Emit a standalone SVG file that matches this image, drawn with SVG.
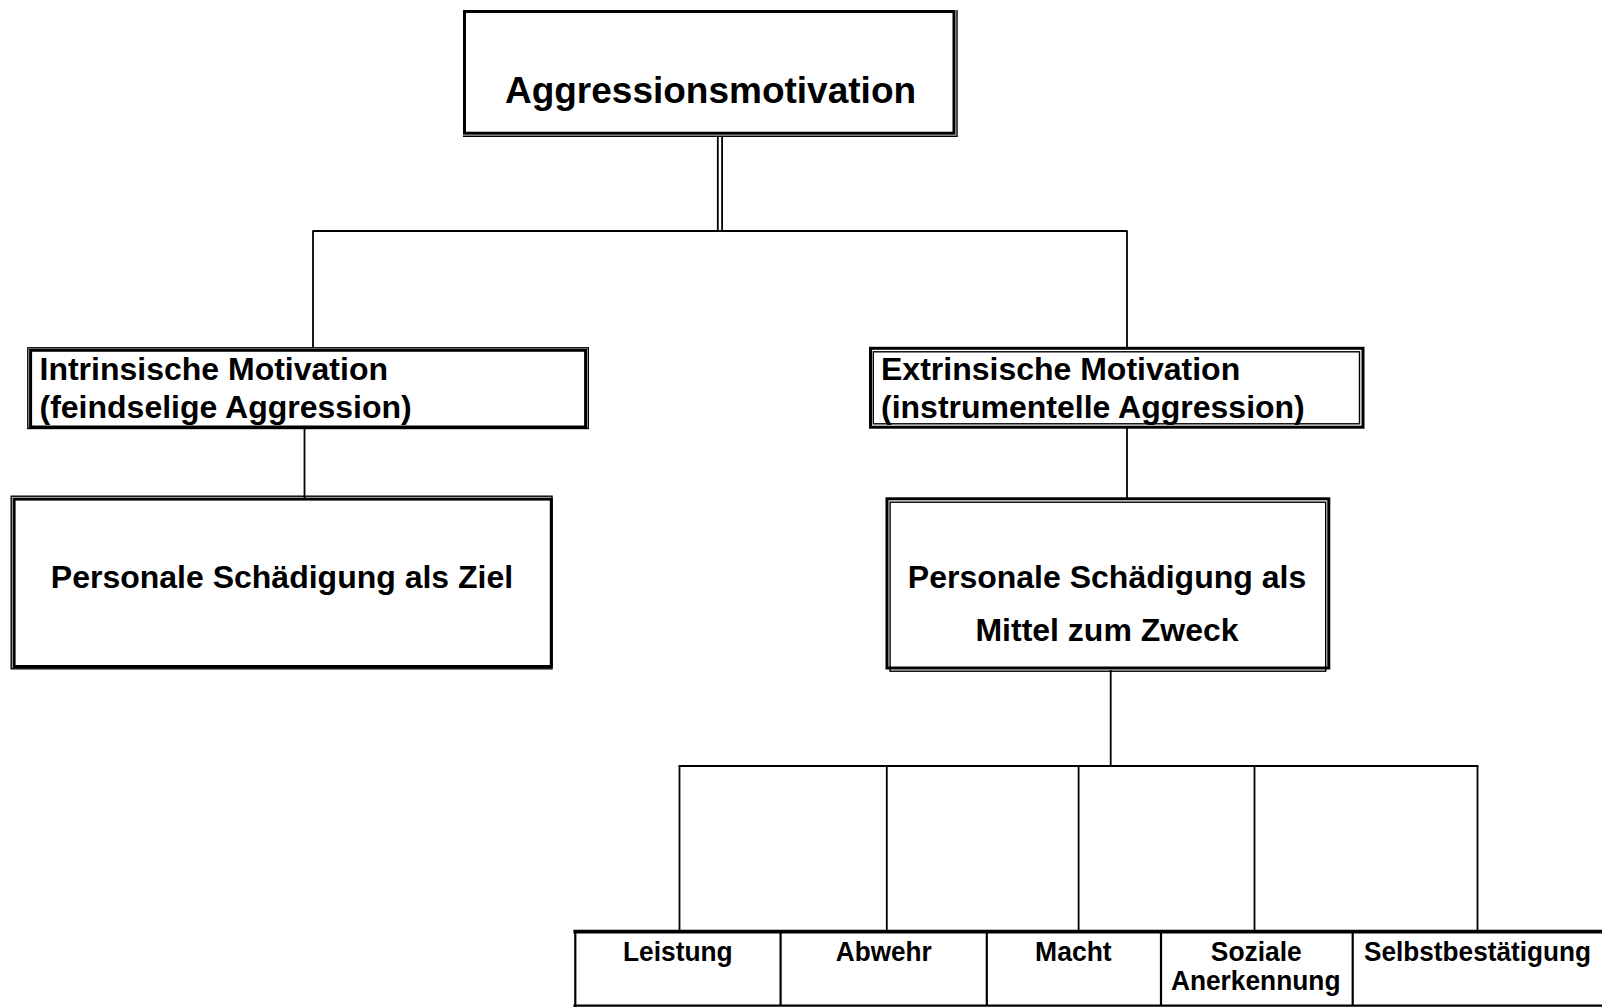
<svg xmlns="http://www.w3.org/2000/svg" width="1602" height="1007" viewBox="0 0 1602 1007">
  <style>
    .bg { fill: #ffffff; }
    .thick { fill: none; stroke: #000; stroke-width: 3; }
    .thin { fill: none; stroke: #000; stroke-width: 1.4; }
    .wire { fill: none; stroke: #000; stroke-width: 1.8; }
    .grid { fill: none; stroke: #000; stroke-width: 2.2; }
    .bar { fill: none; stroke: #000; stroke-width: 3.8; }
    text { font-family: "Liberation Sans", Arial, sans-serif; font-weight: bold; fill: #000; }
    .t37 { font-size: 37px; }
    .t32 { font-size: 32px; }
    .t28 { font-size: 28px; }
    .t26 { font-size: 26.2px; }
    .mid { text-anchor: middle; }
  </style>

  <rect class="bg" x="0" y="0" width="1602" height="1007"/>

  <!-- connecting lines of the tree -->
  <g id="connectors">
    <!-- double stem under the root -->
    <line class="wire" x1="717.8" y1="136" x2="717.8" y2="231"/>
    <line class="wire" x1="722.1" y1="136" x2="722.1" y2="231"/>
    <line class="wire" x1="312.5" y1="231" x2="1127.5" y2="231"/>
    <line class="wire" x1="313" y1="231" x2="313" y2="348"/>
    <line class="wire" x1="1127" y1="231" x2="1127" y2="348"/>
    <!-- motivation boxes to goal boxes -->
    <line class="wire" x1="304.5" y1="428" x2="304.5" y2="498"/>
    <line class="wire" x1="1127" y1="428" x2="1127" y2="498"/>
    <!-- fan-out to the five motives -->
    <line class="wire" x1="1110.7" y1="670" x2="1110.7" y2="766"/>
    <line class="wire" x1="678.6" y1="766" x2="1478.4" y2="766"/>
    <line class="wire" x1="679.5" y1="766" x2="679.5" y2="931"/>
    <line class="wire" x1="886.8" y1="766" x2="886.8" y2="931"/>
    <line class="wire" x1="1078.6" y1="766" x2="1078.6" y2="931"/>
    <line class="wire" x1="1254.5" y1="766" x2="1254.5" y2="931"/>
    <line class="wire" x1="1477.5" y1="766" x2="1477.5" y2="931"/>
  </g>

  <!-- root -->
  <g id="node-aggressionsmotivation">
    <rect class="thick" x="464.5" y="11.5" width="489.5" height="121.7"/>
    <polyline class="thin" points="463,136.2 957,136.2 957,10"/>
    <text class="t37 mid" x="710.5" y="102.5">Aggressionsmotivation</text>
  </g>

  <!-- intrinsic branch -->
  <g id="node-intrinsisch">
    <rect class="thin" x="27.8" y="347.8" width="560.5" height="80.7"/>
    <rect class="thick" x="30.6" y="350.3" width="555" height="76.7"/>
    <text class="t32" x="39.5" y="380">Intrinsische Motivation</text>
    <text class="t32" x="39.5" y="418">(feindselige Aggression)</text>
  </g>

  <g id="node-ziel">
    <rect class="thin" x="11.2" y="496.2" width="540.8" height="172.6"/>
    <rect class="thick" x="14.1" y="499.1" width="537.2" height="167.4"/>
    <text class="t32 mid" x="282" y="587.5">Personale Schädigung als Ziel</text>
  </g>

  <!-- extrinsic branch -->
  <g id="node-extrinsisch">
    <rect class="thick" x="870.5" y="348.3" width="492.5" height="78.9"/>
    <rect class="thin" x="873.3" y="351.8" width="486.2" height="72"/>
    <text class="t32" x="881" y="380">Extrinsische Motivation</text>
    <text class="t32" x="881" y="418">(instrumentelle Aggression)</text>
  </g>

  <g id="node-mittel">
    <rect class="thick" x="887" y="498.8" width="441.8" height="169.2"/>
    <rect class="thin" x="890.1" y="502.2" width="435.6" height="169"/>
    <text class="t32 mid" x="1107" y="587.5">Personale Schädigung als</text>
    <text class="t32 mid" x="1107" y="641">Mittel zum Zweck</text>
  </g>

  <!-- row of motives -->
  <g id="motive-row">
    <line class="bar" x1="573.4" y1="931.6" x2="1602" y2="931.6"/>
    <line class="grid" x1="573.4" y1="1005.6" x2="1602" y2="1005.6"/>
    <line class="grid" x1="575.3" y1="930" x2="575.3" y2="1007"/>
  </g>

  <g id="motive-leistung">
    <text class="t28 mid" x="677.8" y="960.5" textLength="109.6" lengthAdjust="spacingAndGlyphs">Leistung</text>
  </g>

  <g id="motive-abwehr">
    <line class="grid" x1="780.6" y1="931" x2="780.6" y2="1006"/>
    <text class="t28 mid" x="883.8" y="960.5" textLength="96" lengthAdjust="spacingAndGlyphs">Abwehr</text>
  </g>

  <g id="motive-macht">
    <line class="grid" x1="986.8" y1="931" x2="986.8" y2="1006"/>
    <text class="t28 mid" x="1073.4" y="960.5" textLength="76.6" lengthAdjust="spacingAndGlyphs">Macht</text>
  </g>

  <g id="motive-anerkennung">
    <line class="grid" x1="1161" y1="931" x2="1161" y2="1006"/>
    <text class="t28 mid" x="1256.3" y="960.5" textLength="91" lengthAdjust="spacingAndGlyphs">Soziale</text>
    <text class="t28 mid" x="1255.7" y="990" textLength="169.6" lengthAdjust="spacingAndGlyphs">Anerkennung</text>
  </g>

  <g id="motive-selbstbestaetigung">
    <line class="grid" x1="1352.7" y1="931" x2="1352.7" y2="1006"/>
    <text class="t26 mid" transform="translate(1477.5 960.5) scale(1 1.07)" x="0" y="0">Selbstbestätigung</text>
  </g>
</svg>
